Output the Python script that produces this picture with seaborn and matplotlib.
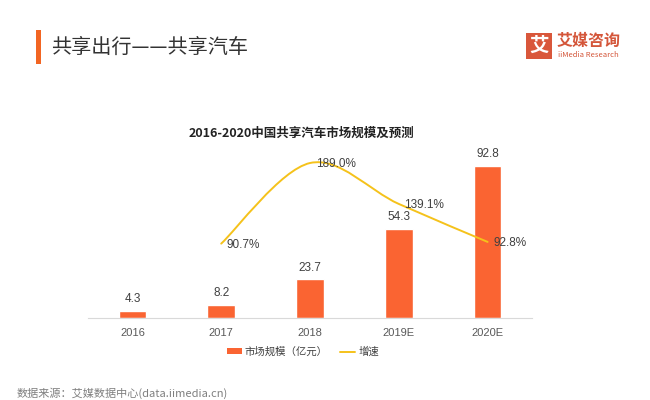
import matplotlib
matplotlib.use("Agg")
import matplotlib.pyplot as plt
import seaborn as sns
import pandas as pd
from matplotlib.path import Path
from matplotlib.patches import PathPatch, Rectangle, Patch
from matplotlib.lines import Line2D

# ---- data ----
years = ["2016", "2017", "2018", "2019E", "2020E"]
market_size = [4.3, 8.2, 23.7, 54.3, 92.8]          # 亿元
growth_years = ["2017", "2018", "2019E", "2020E"]
growth_rate = [90.7, 189.0, 139.1, 92.8]            # %

header_title = "共享出行——共享汽车"
chart_title = "2016-2020中国共享汽车市场规模及预测"
legend_bar = "市场规模（亿元）"
legend_line = "增速"
source_text = "数据来源：艾媒数据中心(data.iimedia.cn)"

BAR_COLOR = "#FA6432"
LINE_COLOR = "#F5C21B"
FONTS = ["Noto Sans CJK SC", "DejaVu Sans"]

sns.set_theme(style="white")
plt.rcParams["font.family"] = FONTS

W, H = 650, 400
fig = plt.figure(figsize=(6.5, 4.0), dpi=100)
fig.patch.set_facecolor("white")

ax = fig.add_axes([88 / W, 82 / H, 444 / W, 164 / H])
df = pd.DataFrame({"year": years, "size": market_size})
sns.barplot(data=df, x="year", y="size", color=BAR_COLOR, width=0.31,
            saturation=1, ax=ax)
ax.set_xlim(-0.5, len(years) - 0.5)
ax.set_ylim(0, 100)
ax.set_xlabel("")
ax.set_ylabel("")
ax.set_yticks([])
for s in ["top", "left", "right"]:
    ax.spines[s].set_visible(False)
ax.spines["bottom"].set_color("#D9D9D9")
ax.spines["bottom"].set_linewidth(0.8)
ax.tick_params(axis="x", which="major", length=0, pad=7, labelsize=8,
               labelcolor="#595959")
ax.set_xticks([i - 0.5 for i in range(len(years) + 1)], minor=True)
ax.tick_params(axis="x", which="minor", length=3, color="#D9D9D9", width=0.8)
for lab in ax.get_xticklabels():
    lab.set_family(["Liberation Sans", "DejaVu Sans"])
ax.grid(False)

for i, v in enumerate(market_size):
    ax.annotate(f"{v}", (i, v), xytext=(0, 4), textcoords="offset points",
                ha="center", va="bottom", fontsize=8.5, color="#404040",
                family=["Liberation Sans", "DejaVu Sans"])

# ---- growth line (smoothed, Excel style) ----
ax2 = ax.twinx()
ax2.set_ylim(0, 200)
ax2.set_yticks([])
for s in ax2.spines.values():
    s.set_visible(False)
xs = [years.index(y) for y in growth_years]
ys = growth_rate
verts = [(xs[0], ys[0])]
codes = [Path.MOVETO]
n = len(xs)
for i in range(n - 1):
    p0 = (xs[i - 1], ys[i - 1]) if i > 0 else (xs[i], ys[i])
    p1 = (xs[i], ys[i])
    p2 = (xs[i + 1], ys[i + 1])
    p3 = (xs[i + 2], ys[i + 2]) if i + 2 < n else p2
    c1 = (p1[0] + (p2[0] - p0[0]) / 6, p1[1] + (p2[1] - p0[1]) / 6)
    c2 = (p2[0] - (p3[0] - p1[0]) / 6, p2[1] - (p3[1] - p1[1]) / 6)
    verts += [c1, c2, p2]
    codes += [Path.CURVE4] * 3
ax2.add_patch(PathPatch(Path(verts, codes), facecolor="none",
                        edgecolor=LINE_COLOR, lw=1.4, capstyle="round"))
for x, y in zip(xs, ys):
    ax2.annotate(f"{y:.1f}%", (x, y), xytext=(4, -1), textcoords="offset points",
                 ha="left", va="center", fontsize=8.5, color="#404040",
                 family=["Liberation Sans", "DejaVu Sans"])

# ---- chart title ----
fig.text(301 / W, 1 - 133 / H, chart_title, ha="center", va="center",
         fontsize=9, fontweight="bold", color="#222222", family=FONTS)

# ---- legend ----
handles = [Patch(facecolor=BAR_COLOR, edgecolor="none"),
           Line2D([0], [0], color=LINE_COLOR, lw=1.4)]
fig.legend(handles, [legend_bar, legend_line], loc="center",
           bbox_to_anchor=(303 / W, 1 - 352 / H), ncol=2, frameon=False,
           fontsize=7.5, handlelength=1.4, handleheight=0.5,
           columnspacing=1.2, handletextpad=0.3,
           labelcolor="#404040", prop={"family": FONTS, "size": 7.5})

# ---- header ----
fig.add_artist(Rectangle((36 / W, 1 - 64 / H), 5 / W, 34 / H,
                         transform=fig.transFigure, facecolor="#F26522",
                         edgecolor="none"))
fig.text(51 / W, 1 - 47 / H, header_title, ha="left", va="center",
         fontsize=14.5, color="#333333", family=FONTS)

# ---- logo ----
fig.add_artist(Rectangle((526 / W, 1 - 59 / H), 26 / W, 26 / H,
                         transform=fig.transFigure, facecolor="#D9573B",
                         edgecolor="none"))
fig.text(539 / W, 1 - 46 / H, "艾", ha="center", va="center", fontsize=14,
         fontweight="bold", color="white", family=FONTS)
fig.text(557 / W, 1 - 41 / H, "艾媒咨询", ha="left", va="center",
         fontsize=11.5, fontweight="bold", color="#D4563A", family=FONTS)
fig.text(558 / W, 1 - 55 / H, "iiMedia Research", ha="left", va="center",
         fontsize=5.5, color="#D4563A", family=FONTS)

# ---- source ----
fig.text(17 / W, 1 - 393 / H, source_text, ha="left", va="center",
         fontsize=8, color="#7F7F7F", family=FONTS)

fig.savefig("out.png", dpi=100)
